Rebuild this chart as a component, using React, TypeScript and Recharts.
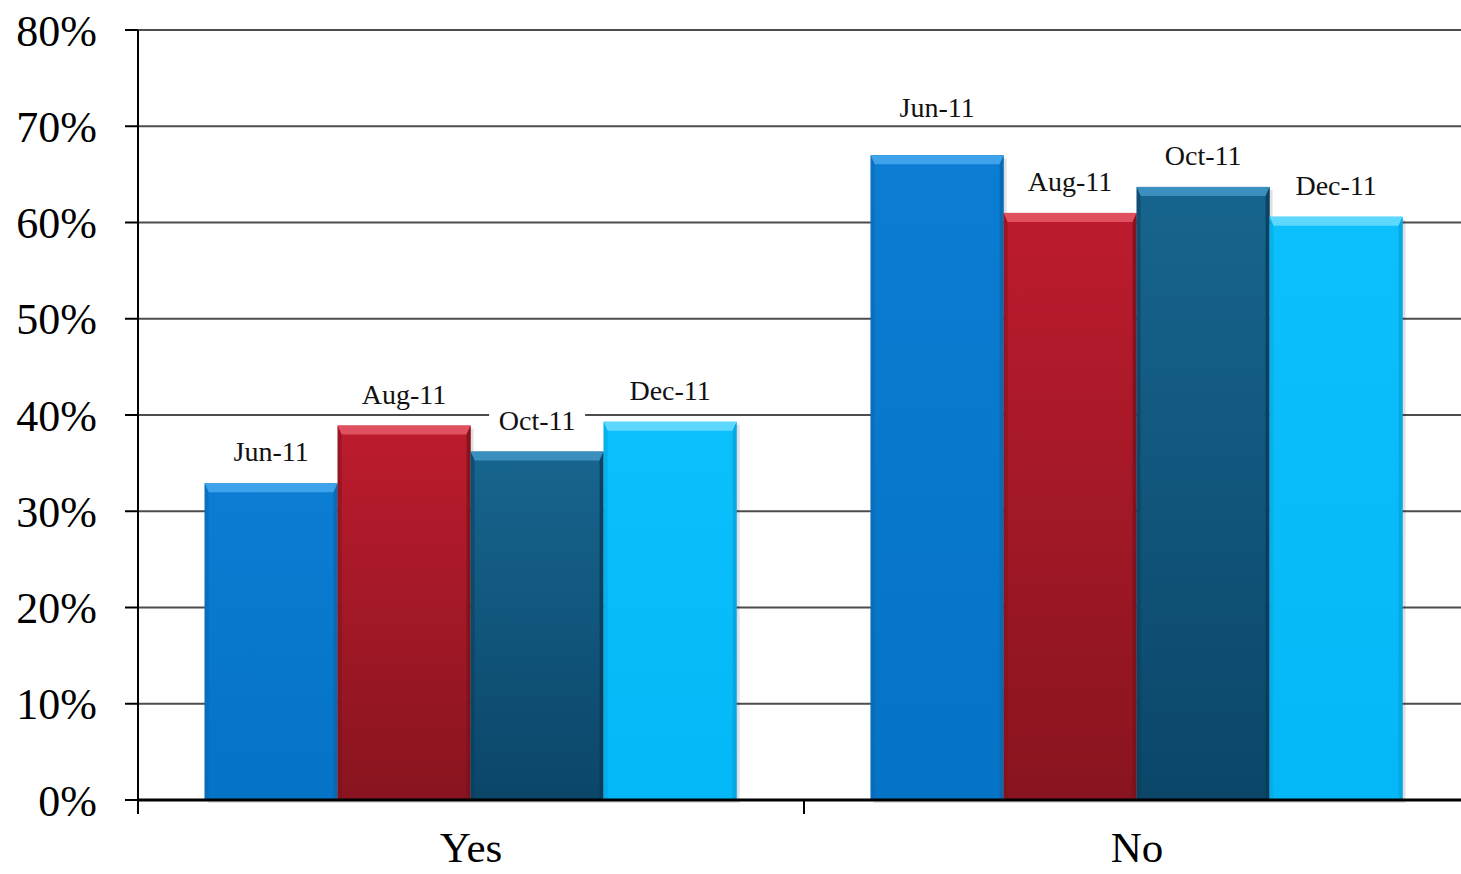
import { Bar, BarChart, CartesianGrid, LabelList, XAxis, YAxis } from "recharts";

const categories = ["Yes", "No"];
const seriesNames = ["Jun-11", "Aug-11", "Oct-11", "Dec-11"];
const jun11 = [32.9, 67.0];
const aug11 = [38.9, 61.0];
const oct11 = [36.2, 63.7];
const dec11 = [39.3, 60.6];
const yTicks = [0, 10, 20, 30, 40, 50, 60, 70, 80];

const seriesValues = [jun11, aug11, oct11, dec11];
const keys = ["jun", "aug", "oct", "dec"];

const data = categories.map((c, i) => {
  const row: Record<string, string | number> = { name: c };
  keys.forEach((k, s) => {
    row[k] = seriesValues[s][i];
  });
  return row;
});

// top / bottom / bevel highlight / side shade
const palette = [
  { top: "#0b7dd2", bottom: "#0573c6", hi: "#3ea3ea", side: "#0866ad" },
  { top: "#bd1c2e", bottom: "#88141f", hi: "#e0515f", side: "#7a111b" },
  { top: "#17658f", bottom: "#0b4668", hi: "#3b8fbf", side: "#0a3a57" },
  { top: "#0cc0fc", bottom: "#04b7f6", hi: "#5fd8ff", side: "#04a3dc" },
];

const WIDTH = 1472;
const HEIGHT = 874;
const MARGIN = { top: 30, right: 2, bottom: 0, left: 0 };
const Y_AXIS_W = 138;
const X_AXIS_H = 74;
const BAND = (WIDTH - MARGIN.left - MARGIN.right - Y_AXIS_W) / categories.length;
const FONT = '"Liberation Serif", "Times New Roman", serif';

function makeShape(s: number) {
  const c = palette[s];
  const gid = `grad-${s}`;
  return (props: any) => {
    const { x, y, width, height } = props;
    if (!height || height <= 0) return <g />;
    const t = 9;
    const sw = 4;
    return (
      <g>
        <defs>
          <linearGradient id={gid} x1="0" y1="0" x2="0" y2="1">
            <stop offset="0%" stopColor={c.top} />
            <stop offset="100%" stopColor={c.bottom} />
          </linearGradient>
        </defs>
        <rect x={x + 3} y={y + 3} width={width} height={height} fill="#000" opacity={0.12} />
        <rect x={x} y={y} width={width} height={height} fill={`url(#${gid})`} />
        <polygon
          points={`${x},${y} ${x + width},${y} ${x + width - sw},${y + t} ${x + sw},${y + t}`}
          fill={c.hi}
        />
        <polygon
          points={`${x},${y} ${x + sw},${y + t} ${x + sw},${y + height} ${x},${y + height}`}
          fill={c.side}
          opacity={0.5}
        />
        <polygon
          points={`${x + width},${y} ${x + width - sw},${y + t} ${x + width - sw},${y + height} ${x + width},${y + height}`}
          fill={c.side}
          opacity={0.8}
        />
      </g>
    );
  };
}

function makeLabel(s: number) {
  return (props: any) => {
    const { x, y, width, index } = props;
    const cx = x + width / 2;
    // the tall "No / Jun-11" label sits a bit higher in the original
    const lift = s === 0 && index === 1 ? 16 : 0;
    const cy = y - 31 - lift;
    return (
      <g>
        <rect x={cx - 48} y={cy - 16} width={96} height={32} fill="#ffffff" />
        <text
          x={cx}
          y={cy + 9}
          textAnchor="middle"
          fontFamily={FONT}
          fontSize={28}
          fill="#111"
        >
          {seriesNames[s]}
        </text>
      </g>
    );
  };
}

function XTick(props: any) {
  const { x, y, payload } = props;
  const left = x - BAND / 2;
  const right = x + BAND / 2;
  return (
    <g>
      <line x1={left} y1={y} x2={left} y2={y + 14} stroke="#000" strokeWidth={2} />
      <line x1={right} y1={y} x2={right} y2={y + 14} stroke="#000" strokeWidth={2} />
      <text x={x} y={y + 62} textAnchor="middle" fontFamily={FONT} fontSize={43} fill="#000">
        {payload.value}
      </text>
    </g>
  );
}

export default function App() {
  return (
    <div
      style={{
        position: "absolute",
        left: 0,
        top: 0,
        width: 1461,
        height: 874,
        overflow: "hidden",
        background: "#fff",
      }}
    >
      <BarChart
        width={WIDTH}
        height={HEIGHT}
        data={data}
        margin={MARGIN}
        barCategoryGap="10%"
        barGap={0}
      >
        <CartesianGrid horizontal vertical={false} stroke="#4d4d4d" strokeWidth={2} />
        <XAxis
          dataKey="name"
          height={X_AXIS_H}
          axisLine={{ stroke: "#000", strokeWidth: 3 }}
          tickLine={false}
          tickSize={0}
          tickMargin={0}
          tick={<XTick />}
          interval={0}
        />
        <YAxis
          width={Y_AXIS_W}
          domain={[0, 80]}
          ticks={yTicks}
          interval={0}
          tickFormatter={(v: number) => `${v}%`}
          axisLine={{ stroke: "#000", strokeWidth: 2 }}
          tickLine={{ stroke: "#000", strokeWidth: 2 }}
          tickSize={13}
          tickMargin={28}
          tick={{ fontFamily: FONT, fontSize: 44, fill: "#000" }}
        />
        {keys.map((k, s) => (
          <Bar key={k} dataKey={k} shape={makeShape(s)} isAnimationActive={false}>
            <LabelList dataKey={k} content={makeLabel(s)} />
          </Bar>
        ))}
      </BarChart>
    </div>
  );
}
